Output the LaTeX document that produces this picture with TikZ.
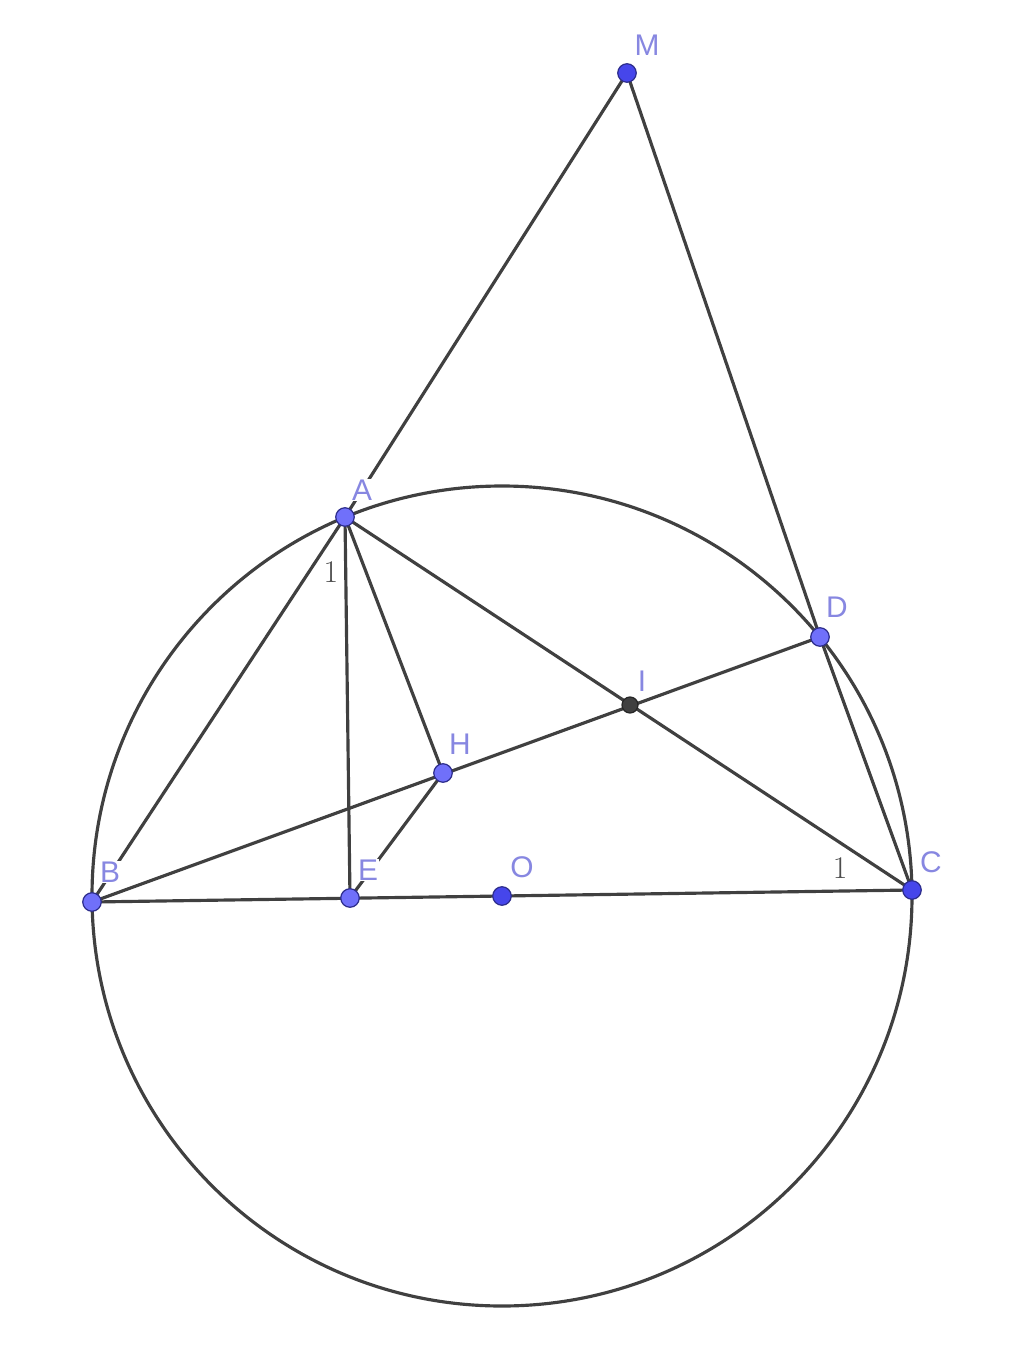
\documentclass[tikz,border=0pt]{standalone}
\usepackage{fontspec}
\setsansfont{Liberation Sans}
\begin{document}
\begin{tikzpicture}[x=0.02cm,y=-0.02cm,
  seg/.style={draw=black!75, line width=1.8pt},
  lab/.style={font=\sffamily\fontsize{17}{17}\selectfont, text=labc, fill=white, inner sep=0.6pt},
  num/.style={font=\fontsize{18}{18}\selectfont, text=black!70, inner sep=0pt},
  ptl/.style={circle, fill=ptlight, draw=ptedge, line width=0.7pt, minimum size=0.37cm, inner sep=0pt},
  ptd/.style={circle, fill=ptdark, draw=ptedge, line width=0.7pt, minimum size=0.37cm, inner sep=0pt},
  pti/.style={circle, fill=black!75, draw=black!85, line width=0.7pt, minimum size=0.32cm, inner sep=0pt}]
\definecolor{labc}{RGB}{135,135,225}
\definecolor{ptlight}{RGB}{112,112,250}
\definecolor{ptdark}{RGB}{70,70,235}
\definecolor{ptedge}{RGB}{45,45,140}
\useasboundingbox (0,0) rectangle (1024,1345);
\coordinate (M) at (627,73);
\coordinate (A) at (345,517);
\coordinate (D) at (820,637);
\coordinate (I) at (630,705);
\coordinate (H) at (443,773);
\coordinate (B) at (92,902);
\coordinate (E) at (350,898);
\coordinate (O) at (502,896);
\coordinate (C) at (912,890);
% circle
\draw[seg] (O) circle (410);
% segments
\draw[seg] (M) -- (A);
\draw[seg] (M) -- (D);
\draw[seg] (D) -- (C);
\draw[seg] (A) -- (B);
\draw[seg] (A) -- (E);
\draw[seg] (A) -- (H);
\draw[seg] (A) -- (C);
\draw[seg] (B) -- (D);
\draw[seg] (H) -- (E);
\draw[seg] (B) -- (C);
% labels
\node[lab] (lM) at (647,45) {M};
\node[lab] (lA) at (362,490) {A};
\node[lab] (lD) at (837,607) {D};
\node[lab] (lI) at (642,681) {I};
\node[lab] (lH) at (460,744) {H};
\node[lab] (lB) at (110,872) {B};
\node[lab] (lE) at (368,870) {E};
\node[lab] (lO) at (522,867) {O};
\node[lab] (lC) at (931,862) {C};
\node[num] (n1) at (331,572) {1};
\node[num] (n2) at (840,868) {1};
% points
\node[ptd] (pM) at (M) {};
\node[ptl] (pA) at (A) {};
\node[ptl] (pD) at (D) {};
\node[pti] (pI) at (I) {};
\node[ptl] (pH) at (H) {};
\node[ptl] (pB) at (B) {};
\node[ptl] (pE) at (E) {};
\node[ptd] (pO) at (O) {};
\node[ptd] (pC) at (C) {};
\end{tikzpicture}
\end{document}
